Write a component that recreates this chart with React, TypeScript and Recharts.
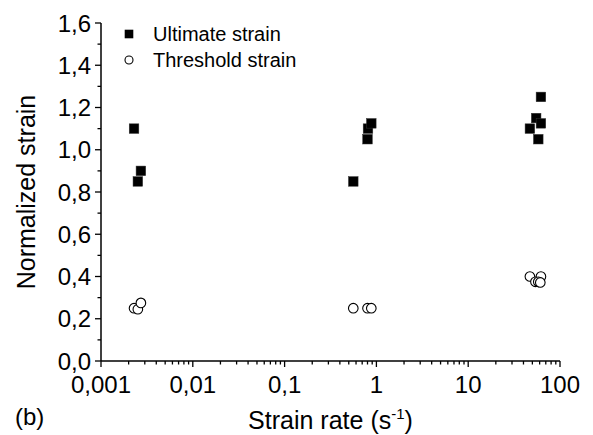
import React from "react";
import {
  ScatterChart,
  Scatter,
  XAxis,
  YAxis,
  Legend,
} from "recharts";

// Ultimate strain (filled squares)
const ultimateRate = [0.00229, 0.00252, 0.00272, 0.56, 0.8, 0.81, 0.88, 47, 55, 62, 62, 58];
const ultimateStrain = [1.1, 0.85, 0.9, 0.85, 1.05, 1.1, 1.125, 1.1, 1.15, 1.125, 1.25, 1.05];

// Threshold strain (open circles)
const thresholdRate = [0.00229, 0.00252, 0.00272, 0.56, 0.8, 0.88, 47, 62, 54, 58, 61];
const thresholdStrain = [0.25, 0.245, 0.275, 0.25, 0.25, 0.25, 0.4, 0.4, 0.375, 0.375, 0.372];

// axis ticks
const xMajorTicks = [0.001, 0.01, 0.1, 1, 10, 100];
const xMinorSteps = [2, 3, 4, 5, 6, 7, 8, 9];
const yTicks = [0, 0.1, 0.2, 0.3, 0.4, 0.5, 0.6, 0.7, 0.8, 0.9, 1.0, 1.1, 1.2, 1.3, 1.4, 1.5, 1.6];

const seriesNames = ["Ultimate strain", "Threshold strain"];

const FONT = '"Liberation Sans", Arial, sans-serif';

const ultimateData = ultimateRate.map((rate, i) => ({ rate, strain: ultimateStrain[i] }));
const thresholdData = thresholdRate.map((rate, i) => ({ rate, strain: thresholdStrain[i] }));

const xTicks = [
  ...xMajorTicks,
  ...xMajorTicks.slice(0, -1).flatMap((m) => xMinorSteps.map((s) => m * s)),
].sort((a, b) => a - b);

const fmt = (v: number) => String(v).replace(".", ",");

const XTick = (props: any) => {
  const { x, y, payload } = props;
  const major = xMajorTicks.includes(payload.value);
  return (
    <g>
      <line x1={x} x2={x} y1={y} y2={y + (major ? 6 : 3.5)} stroke="#000" strokeWidth={1.3} />
      {major && (
        <text x={x} y={y + 23} dy="0.355em" textAnchor="middle" fontSize={24} fill="#000" fontFamily={FONT}>
          {fmt(payload.value)}
        </text>
      )}
    </g>
  );
};

const YTick = (props: any) => {
  const { x, y, payload } = props;
  const major = Math.round(payload.value * 10) % 2 === 0;
  return (
    <g>
      <line x1={x - (major ? 6 : 3.5)} x2={x} y1={y} y2={y} stroke="#000" strokeWidth={1.3} />
      {major && (
        <text x={x - 10} y={y} dy="0.355em" textAnchor="end" fontSize={24} fill="#000" fontFamily={FONT}>
          {payload.value.toFixed(1).replace(".", ",")}
        </text>
      )}
    </g>
  );
};

const SquareDot = (props: any) => {
  const { cx, cy } = props;
  return <rect x={cx - 4.8} y={cy - 4.8} width={9.6} height={9.6} fill="#000" stroke="#333" strokeWidth={0.5} />;
};

const CircleDot = (props: any) => {
  const { cx, cy } = props;
  return <circle cx={cx} cy={cy} r={4.8} fill="#fff" stroke="#000" strokeWidth={1.1} />;
};

const YTitle = (props: any) => {
  const vb = props.viewBox || { x: 0, y: 23, width: 101, height: 338 };
  const cx = vb.x + 26;
  const cy = vb.y + vb.height / 2;
  return (
    <text
      x={cx}
      y={cy}
      dy="0.355em"
      textAnchor="middle"
      transform={`rotate(-90 ${cx} ${cy})`}
      fontSize={25}
      fill="#000"
      fontFamily={FONT}
    >
      Normalized strain
    </text>
  );
};

const XTitle = (props: any) => {
  const vb = props.viewBox || { x: 101, y: 361, width: 459, height: 74 };
  const cx = vb.x + vb.width / 2;
  return (
    <g>
      <text x={cx} y={vb.y + 59} dy="0.355em" textAnchor="middle" fontSize={25} fill="#000" fontFamily={FONT}>
        Strain rate (s
        <tspan fontSize={15} dy={-10}>-1</tspan>
        <tspan dy={10}>)</tspan>
      </text>
      <text x={vb.x - 86} y={vb.y + 55} dy="0.355em" textAnchor="start" fontSize={24} fill="#000" fontFamily={FONT}>
        (b)
      </text>
    </g>
  );
};

const renderLegend = () => (
  <div style={{ fontFamily: FONT, fontSize: 20, color: "#000" }}>
    {seriesNames.map((name, i) => (
      <div key={name} style={{ display: "flex", alignItems: "center", height: 26 }}>
        <svg width={16} height={16} style={{ marginRight: 16 }}>
          {i === 0 ? (
            <rect x={3.7} y={3.7} width={8.6} height={8.6} fill="#000" />
          ) : (
            <circle cx={8} cy={8} r={4} fill="#fff" stroke="#000" strokeWidth={1.1} />
          )}
        </svg>
        <span>{name}</span>
      </div>
    ))}
  </div>
);

export default function App() {
  return (
    <div style={{ position: "absolute", left: 0, top: 0, background: "#fff" }}>
      <ScatterChart
        width={593}
        height={435}
        margin={{ top: 23, right: 33, left: 0, bottom: 0 }}
        style={{ fontFamily: FONT }}
      >
        <XAxis
          type="number"
          dataKey="rate"
          scale="log"
          domain={[0.001, 100]}
          allowDataOverflow
          ticks={xTicks}
          interval={0}
          height={74}
          tickSize={0}
          tickMargin={0}
          tickLine={false}
          tick={<XTick />}
          axisLine={{ stroke: "#000", strokeWidth: 1.5 }}
          label={<XTitle />}
        />
        <YAxis
          type="number"
          dataKey="strain"
          domain={[0, 1.6]}
          allowDataOverflow
          ticks={yTicks}
          interval={0}
          width={101}
          tickSize={0}
          tickMargin={0}
          tickLine={false}
          tick={<YTick />}
          axisLine={{ stroke: "#000", strokeWidth: 1.5 }}
          label={<YTitle />}
        />
        <Legend
          layout="vertical"
          align="center"
          verticalAlign="middle"
          content={renderLegend}
          wrapperStyle={{ top: 21, left: 121, width: "auto" }}
        />
        <Scatter
          name={seriesNames[0]}
          data={ultimateData}
          shape={<SquareDot />}
          isAnimationActive={false}
        />
        <Scatter
          name={seriesNames[1]}
          data={thresholdData}
          shape={<CircleDot />}
          isAnimationActive={false}
        />
      </ScatterChart>
    </div>
  );
}
